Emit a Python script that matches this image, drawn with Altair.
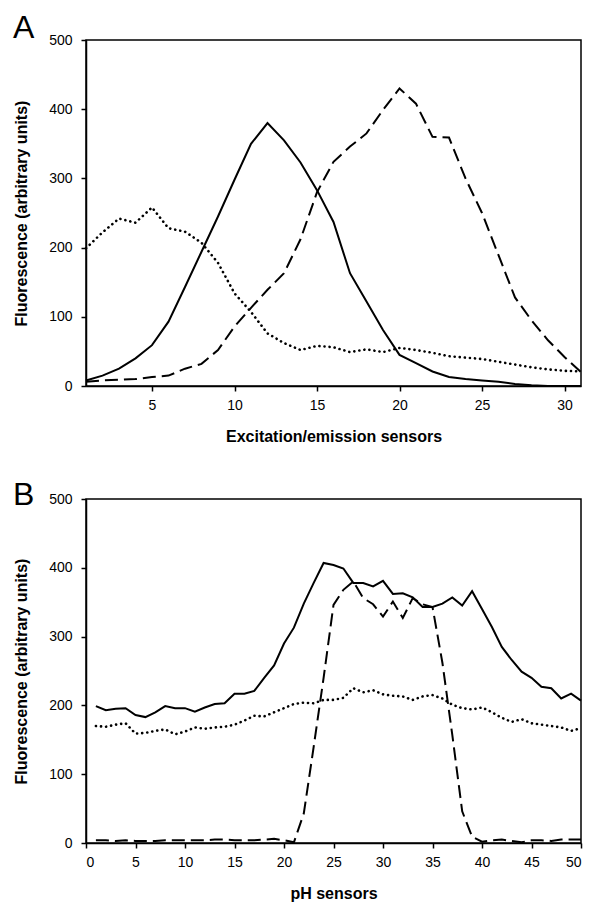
import altair as alt
import pandas as pd

FONT = "Liberation Sans"

# Panel A: excitation/emission sensors 1..31
xa = list(range(1, 32))
a_solid = [8, 15, 25, 40, 59, 93, 143, 194, 245, 298, 350, 380, 355, 323, 283, 237, 163, 122, 81, 45,
           33, 21, 13, 10, 8, 6, 3, 1, 0, 0, 0]
a_dashed = [6, 8, 9, 10, 13, 15, 25, 32, 52, 86, 113, 139, 163, 212, 280, 324, 346, 365, 399, 430,
            408, 360, 359, 300, 250, 189, 128, 95, 66, 42, 20]
a_dotted = [199, 222, 242, 236, 258, 228, 223, 207, 178, 134, 107, 76, 62, 52, 58, 56, 49, 53, 49, 55,
            52, 48, 43, 41, 39, 35, 31, 27, 24, 22, 21]

# Panel B: pH sensors 1..50
xb = list(range(1, 51))
b_solid = [199, 193, 195, 196, 186, 183, 190, 199, 196, 196, 191, 197, 202, 203, 217, 217, 221, 240, 258, 290,
           313, 348, 378, 407, 404, 399, 378, 378, 373, 381, 362, 363, 357, 343, 343, 348, 357, 345, 366, 340,
           314, 285, 266, 249, 240, 227, 225, 210, 217, 207]
b_dashed = [4, 4, 3, 4, 3, 3, 3, 4, 4, 4, 4, 4, 5, 5, 4, 4, 4, 5, 6, 4,
            1, 43, 140, 240, 346, 368, 380, 356, 347, 329, 351, 327, 356, 347, 343, 262, 157, 46, 9, 2,
            4, 5, 3, 1, 4, 4, 3, 5, 5, 5]
b_dotted = [170, 169, 172, 174, 159, 160, 163, 165, 158, 162, 168, 166, 168, 169, 172, 178, 185, 184, 190, 196,
            202, 204, 203, 208, 208, 211, 225, 219, 222, 216, 214, 213, 208, 213, 215, 210, 201, 196, 194, 197,
            190, 182, 176, 180, 174, 172, 170, 168, 163, 167]

y_ticks = [0, 100, 200, 300, 400, 500]
ytitle = "Fluorescence (arbitrary units)"


def panel(x, solid, dashed, dotted, xdomain, xticks, xtitle, letter, letter_y, h):
    df = pd.DataFrame({"x": x, "solid": solid, "dashed": dashed, "dotted": dotted})
    base = alt.Chart(df)
    X = alt.X("x:Q", scale=alt.Scale(domain=xdomain, nice=False, zero=False),
              axis=alt.Axis(values=xticks, title=xtitle, grid=False, format="d"))

    def Y(col):
        return alt.Y(f"{col}:Q", scale=alt.Scale(domain=[0, 500], nice=False),
                     axis=alt.Axis(values=y_ticks, title=ytitle, grid=False))

    solid_l = base.mark_line(color="black", strokeWidth=2).encode(x=X, y=Y("solid"))
    dashed_l = base.mark_line(color="black", strokeWidth=2, strokeDash=[13, 6]).encode(x=X, y=Y("dashed"))
    dotted_l = base.mark_line(color="black", strokeWidth=2.6, strokeDash=[0.1, 5],
                              strokeCap="round").encode(x=X, y=Y("dotted"))
    lab = alt.Chart(pd.DataFrame({"t": [letter]})).mark_text(
        align="left", baseline="alphabetic", fontSize=32, font=FONT, color="black"
    ).encode(text="t:N", x=alt.value(-73), y=alt.value(letter_y))
    return alt.layer(solid_l, dashed_l, dotted_l, lab).properties(width=495, height=h)


pa = panel(xa, a_solid, a_dashed, a_dotted, [1, 31], [5, 10, 15, 20, 25, 30],
           "Excitation/emission sensors", "A", -2, 346)
pb = panel(xb, b_solid, b_dashed, b_dotted, [0, 50], list(range(0, 51, 5)),
           "pH sensors", "B", 6, 344)

chart = alt.vconcat(pa, pb, spacing=33).properties(
    padding={"left": 12, "top": 11, "right": 0, "bottom": 0},
    background="white",
).configure_axis(
    domainColor="black", domainWidth=1.5, tickColor="black", tickWidth=1.5, tickSize=5,
    labelFont=FONT, labelFontSize=14, labelColor="black", labelPadding=7,
    titleFont=FONT, titleFontSize=16, titleFontWeight="bold", titleColor="black",
).configure_axisY(labelPadding=9, titlePadding=19).configure_axisX(titlePadding=16).configure_view(
    stroke="black", strokeWidth=1.5
)

chart.save("out.html", embed_options={"renderer": "svg", "actions": False})
